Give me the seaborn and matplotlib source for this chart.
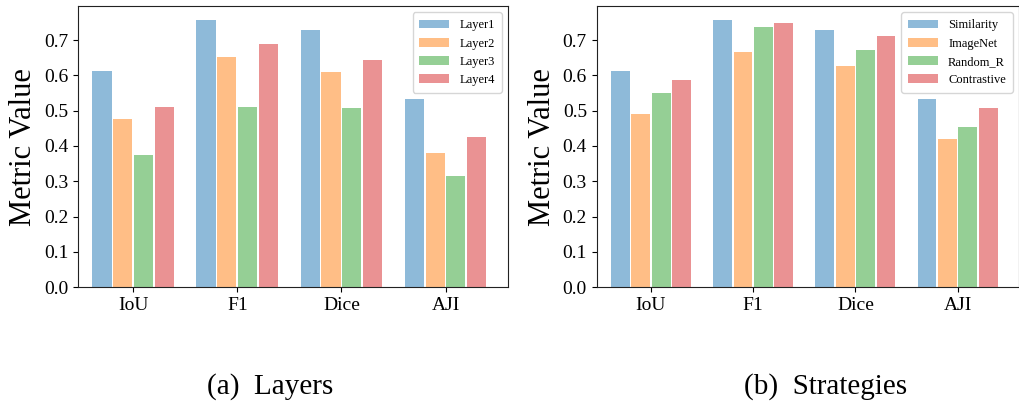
import numpy as np
import pandas as pd
import matplotlib
matplotlib.use("Agg")
import matplotlib.pyplot as plt
import seaborn as sns

metrics = ["IoU", "F1", "Dice", "AJI"]

layer_names = ["Layer1", "Layer2", "Layer3", "Layer4"]
layer1 = [0.613, 0.756, 0.727, 0.533]
layer2 = [0.475, 0.652, 0.610, 0.379]
layer3 = [0.373, 0.511, 0.508, 0.314]
layer4 = [0.511, 0.690, 0.642, 0.424]

strategy_names = ["Similarity", "ImageNet", "Random_R", "Contrastive"]
similarity = [0.613, 0.756, 0.727, 0.533]
imagenet = [0.490, 0.666, 0.625, 0.420]
random_r = [0.551, 0.737, 0.672, 0.453]
contrastive = [0.588, 0.748, 0.710, 0.508]


def to_long(names, series):
    rows = []
    for name, vals in zip(names, series):
        for m, v in zip(metrics, vals):
            rows.append({"Metric": m, "Group": name, "Value": v})
    return pd.DataFrame(rows)


layers_df = to_long(layer_names, [layer1, layer2, layer3, layer4])
strategies_df = to_long(strategy_names, [similarity, imagenet, random_r, contrastive])

plt.rcParams["font.family"] = ["Liberation Serif", "DejaVu Serif"]
colors = sns.color_palette("tab10")[:4]

fig = plt.figure(figsize=(10.2, 4.09), dpi=100)
ax1 = fig.add_axes([0.0765, 0.298, 0.4215, 0.687])
ax2 = fig.add_axes([0.585, 0.298, 0.414, 0.687])

for ax, df, names, caption, cx in [
    (ax1, layers_df, layer_names, "(a)  Layers", 0.265),
    (ax2, strategies_df, strategy_names, "(b)  Strategies", 0.809),
]:
    sns.barplot(data=df, x="Metric", y="Value", hue="Group", hue_order=names,
                order=metrics, palette=colors, saturation=1, alpha=0.5,
                gap=0.08, edgecolor="none", ax=ax)
    ax.set_xlim(-0.53, 3.6)
    ax.set_ylim(0, 0.796)
    ax.set_yticks(np.arange(0, 0.75, 0.1))
    ax.set_xlabel("")
    ax.set_ylabel("Metric Value", fontsize=22)
    ax.tick_params(axis="both", labelsize=14)
    for s in ax.spines.values():
        s.set_color("#222222")
    leg = ax.legend(loc="upper right", fontsize=9, frameon=True,
                    handlelength=2.4, labelspacing=0.5, borderpad=0.55)
    leg.get_frame().set_edgecolor("#cccccc")
    fig.text(cx, 0.055, caption, fontsize=21, ha="center", va="center")

fig.savefig("out.png", dpi=100)
